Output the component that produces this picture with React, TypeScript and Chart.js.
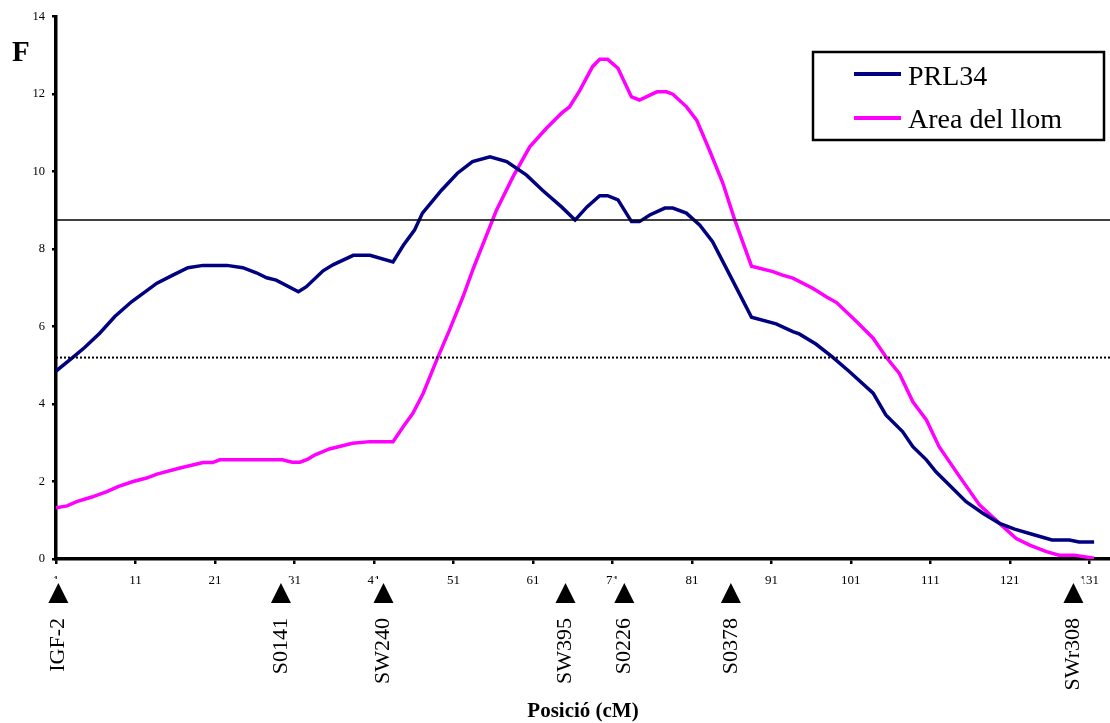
import { useEffect, useRef } from "react";
import { Chart, registerables } from "chart.js";

Chart.register(...registerables);

// F-statistic profile along the chromosome (position in cM)
const prlPos = [
  1, 3.2, 4.6, 6.5, 8.4, 10.5, 13.7, 15.7, 17.6, 19.5, 22.5, 24.5, 26.2, 27.5, 28.7,
  31.5, 32.5, 34.6, 35.9, 38.4, 40.5, 43.4, 44.7, 46.1, 47.1, 49.5, 51.5, 53.4, 55.6,
  57.7, 60.2, 62.2, 64.6, 66.3, 67.8, 69.4, 70.4, 71.7, 73.4, 74.4, 75.7, 77.6, 78.6,
  80.3, 82.0, 83.6, 86.1, 88.5, 91.6, 93.7, 94.5, 96.6, 98.7, 100.8, 103.8, 105.4,
  107.5, 108.8, 110.5, 111.7, 115.5, 117.6, 119.7, 121.6, 123.8, 126.3, 128.5, 129.7, 131.6,
];
const prlF = [
  4.85, 5.22, 5.46, 5.83, 6.26, 6.64, 7.12, 7.33, 7.52, 7.58, 7.58, 7.52, 7.39, 7.26, 7.2,
  6.9, 7.03, 7.44, 7.6, 7.84, 7.84, 7.67, 8.1, 8.49, 8.93, 9.52, 9.96, 10.26, 10.38,
  10.26, 9.91, 9.52, 9.09, 8.75, 9.09, 9.38, 9.38, 9.27, 8.71, 8.71, 8.88, 9.06, 9.06,
  8.93, 8.62, 8.19, 7.2, 6.24, 6.07, 5.87, 5.81, 5.55, 5.21, 4.84, 4.28, 3.72,
  3.29, 2.9, 2.56, 2.25, 1.48, 1.18, 0.92, 0.77, 0.64, 0.49, 0.49, 0.44, 0.44,
];

const areaPos = [
  1, 2.4, 3.6, 5.5, 7.4, 8.8, 10.7, 12.4, 13.7, 16.6, 19.5, 20.7, 21.6, 29.5, 30.7,
  31.7, 32.7, 33.6, 35.4, 38.3, 40.5, 43.4, 44.7, 45.9, 47.2, 48.9, 50.5, 52.2, 53.5,
  56.4, 58.5, 60.6, 62.7, 64.6, 65.6, 66.9, 68.5, 69.4, 70.4, 71.7, 73.4, 74.4, 76.6,
  77.8, 78.6, 80.3, 81.6, 83.2, 84.9, 86.4, 88.5, 91.2, 92.4, 93.7, 96.2, 97.9, 99.2,
  101.7, 103.8, 105.4, 107.1, 108.8, 110.5, 112.1, 114.7, 117.2, 119.7, 121.8, 123.5,
  125.6, 127.2, 129.1, 131.6,
];
const areaF = [
  1.32, 1.37, 1.48, 1.6, 1.74, 1.87, 2.0, 2.09, 2.19, 2.35, 2.49, 2.49, 2.56, 2.56, 2.5,
  2.5, 2.58, 2.69, 2.84, 2.99, 3.03, 3.03, 3.42, 3.76, 4.28, 5.14, 5.91, 6.77, 7.5,
  9.0, 9.87, 10.64, 11.12, 11.51, 11.67, 12.1, 12.71, 12.9, 12.9, 12.67, 11.93, 11.85, 12.06,
  12.06, 12.0, 11.68, 11.33, 10.56, 9.7, 8.75, 7.56, 7.42, 7.33, 7.25, 6.99, 6.77, 6.62,
  6.13, 5.7, 5.22, 4.79, 4.06, 3.59, 2.9, 2.12, 1.39, 0.92, 0.53, 0.36,
  0.19, 0.1, 0.1, 0.02,
];

const seriesNames = ["PRL34", "Area del llom"];
const seriesColors = ["#000080", "#FF00FF"];

// significance thresholds
const thresholdSolid = 8.75;
const thresholdDotted = 5.2;

const xTickValues = [1, 11, 21, 31, 41, 51, 61, 71, 81, 91, 101, 111, 121, 131];
const yTickStep = 2;

const markerNames = ["IGF-2", "S0141", "SW240", "SW395", "S0226", "S0378", "SWr308"];
const markerPos = [1.3, 29.3, 42.2, 65.1, 72.5, 85.9, 129.0];

const X_MIN = 1;
const X_MAX = 133.6;
const SERIF = '"Liberation Serif", "Times New Roman", serif';

const toPoints = (xs: number[], ys: number[]) => xs.map((x, i) => ({ x, y: ys[i] }));

const overlayPlugin = {
  id: "overlay",
  afterDraw(chart: any) {
    const ctx: CanvasRenderingContext2D = chart.ctx;
    const xs = chart.scales.x;
    ctx.save();

    // axis letter
    ctx.fillStyle = "#000";
    ctx.font = `bold 29px ${SERIF}`;
    ctx.textAlign = "left";
    ctx.textBaseline = "alphabetic";
    ctx.fillText("F", 12, 61);

    // legend box
    ctx.fillStyle = "#fff";
    ctx.fillRect(813, 52, 291, 88);
    ctx.strokeStyle = "#000";
    ctx.lineWidth = 2.5;
    ctx.strokeRect(813, 52, 291, 88);
    const rows = [
      { lineY: 74, baseY: 85 },
      { lineY: 118, baseY: 128 },
    ];
    rows.forEach((r, i) => {
      ctx.strokeStyle = seriesColors[i];
      ctx.lineWidth = 4;
      ctx.beginPath();
      ctx.moveTo(854, r.lineY);
      ctx.lineTo(901, r.lineY);
      ctx.stroke();
      ctx.fillStyle = "#000";
      ctx.font = `28px ${SERIF}`;
      ctx.textAlign = "left";
      ctx.textBaseline = "alphabetic";
      ctx.fillText(seriesNames[i], 908, r.baseY);
    });

    // marker triangles and names below the axis
    markerPos.forEach((pos, i) => {
      const px = xs.getPixelForValue(pos);
      ctx.fillStyle = "#fff";
      ctx.fillRect(px - 10, 579, 20, 26);
      ctx.fillStyle = "#000";
      ctx.beginPath();
      ctx.moveTo(px, 583);
      ctx.lineTo(px + 10, 603);
      ctx.lineTo(px - 10, 603);
      ctx.closePath();
      ctx.fill();

      ctx.save();
      ctx.translate(px, 618);
      ctx.rotate(-Math.PI / 2);
      ctx.font = `22px ${SERIF}`;
      ctx.textAlign = "right";
      ctx.textBaseline = "middle";
      ctx.fillText(markerNames[i], 0, 0);
      ctx.restore();
    });

    ctx.restore();
  },
};

export default function App() {
  const canvasRef = useRef<HTMLCanvasElement | null>(null);

  useEffect(() => {
    const canvas = canvasRef.current;
    if (!canvas) return;
    const chart = new Chart(canvas, {
      type: "line",
      data: {
        datasets: [
          {
            label: "threshold-solid",
            data: [
              { x: X_MIN, y: thresholdSolid },
              { x: X_MAX, y: thresholdSolid },
            ],
            borderColor: "#000",
            borderWidth: 1.5,
            pointRadius: 0,
          },
          {
            label: "threshold-dotted",
            data: [
              { x: X_MIN, y: thresholdDotted },
              { x: X_MAX, y: thresholdDotted },
            ],
            borderColor: "#000",
            borderWidth: 2,
            borderDash: [2, 2],
            pointRadius: 0,
          },
          {
            label: seriesNames[0],
            data: toPoints(prlPos, prlF),
            borderColor: seriesColors[0],
            borderWidth: 3.5,
            pointRadius: 0,
            tension: 0,
          },
          {
            label: seriesNames[1],
            data: toPoints(areaPos, areaF),
            borderColor: seriesColors[1],
            borderWidth: 3.5,
            pointRadius: 0,
            tension: 0,
          },
        ],
      },
      options: {
        animation: false,
        responsive: false,
        devicePixelRatio: 1,
        layout: { padding: { top: 16.7, left: 0, right: 0, bottom: 0 } },
        plugins: {
          legend: { display: false },
          tooltip: { enabled: false },
        },
        scales: {
          x: {
            type: "linear",
            min: X_MIN,
            max: X_MAX,
            afterBuildTicks: (scale: any) => {
              scale.ticks = xTickValues.map((value) => ({ value }));
            },
            afterFit: (scale: any) => {
              scale.height = 164;
            },
            ticks: {
              color: "#000",
              font: { family: SERIF, size: 13 },
              padding: 9,
              maxRotation: 0,
              autoSkip: false,
            },
            grid: {
              display: true,
              drawOnChartArea: false,
              drawTicks: true,
              tickLength: 5,
              lineWidth: 2.5,
              color: "#000",
            },
            border: { display: true, width: 3.5, color: "#000" },
            title: {
              display: true,
              text: "Posició (cM)",
              color: "#000",
              font: { family: SERIF, size: 21, weight: "bold", lineHeight: 1 },
              padding: { top: 0, bottom: 1 },
            },
          },
          y: {
            type: "linear",
            min: 0,
            max: 14,
            afterFit: (scale: any) => {
              scale.width = 56;
            },
            ticks: {
              stepSize: yTickStep,
              color: "#000",
              font: { family: SERIF, size: 12.5 },
              padding: 7,
            },
            grid: {
              display: true,
              drawOnChartArea: false,
              drawTicks: true,
              tickLength: 4,
              lineWidth: 2.5,
              color: "#000",
            },
            border: { display: true, width: 3.5, color: "#000" },
          },
        },
      },
      plugins: [overlayPlugin],
    } as any);
    return () => chart.destroy();
  }, []);

  return (
    <div style={{ position: "fixed", left: 0, top: 0, width: 1110, height: 723, background: "#fff" }}>
      <canvas ref={canvasRef} width={1110} height={723} />
    </div>
  );
}
